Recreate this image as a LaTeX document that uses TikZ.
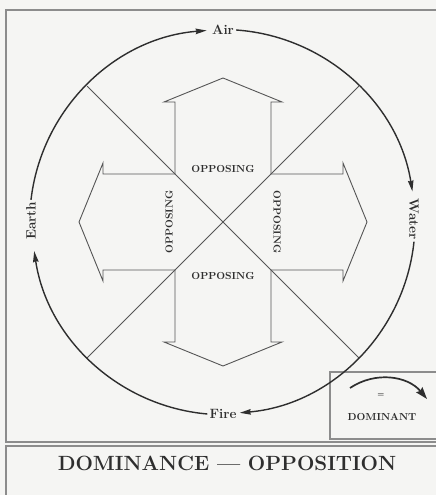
\documentclass[tikz,border=0pt]{standalone}
\usepackage{tikz}
\usepackage{xcolor}
\usetikzlibrary{arrows.meta}
\definecolor{inkgray}{HTML}{2E2E2E}
\definecolor{linegray}{HTML}{555555}
\definecolor{framegray}{HTML}{8C8C8C}
\definecolor{paper}{HTML}{F5F5F3}

\begin{document}
\begin{tikzpicture}[x=1pt, y=1pt,
  element/.style={font=\fontsize{13.5}{16}\selectfont\bfseries, text=inkgray, inner sep=2pt},
  opp/.style={font=\fontsize{10.2}{12}\selectfont\bfseries, text=inkgray, inner sep=1pt},
  dom/.style={line width=1.4pt, draw=inkgray, -{Stealth[length=11pt,width=5.5pt,inset=1pt]}},
  thinline/.style={draw=linegray, line width=0.9pt},
  framebox/.style={draw=framegray, line width=1.2pt}]

\useasboundingbox (0,0) rectangle (436,495);
\clip (0,0) rectangle (436,495);
\fill[paper] (0,0) rectangle (436,495);
\draw[framebox] (6,53) rectangle (446,485);
\draw[framebox] (6,-5) rectangle (446,49);
\draw[framebox] (330,56) rectangle (446,123);

\coordinate (c) at (223,273);

% diagonals
\draw[thinline] ([shift={(135:192)}]c) -- ([shift={(-45:192)}]c);
\draw[thinline] ([shift={(45:192)}]c) -- ([shift={(-135:192)}]c);

% cross of four arrows
\begin{scope}[shift={(c)}]
\foreach \a in {0,90,180,270}
  \draw[thinline, rotate=\a] (48,48) -- (120,48) -- (120,59) -- (144,0)
    -- (120,-59) -- (120,-48) -- (48,-48);
\end{scope}

\node[opp] (opptop) at (223,326) {OPPOSING};
\node[opp] (oppbot) at (223,219) {OPPOSING};
\node[opp, rotate=90] (oppleft) at (169,273) {OPPOSING};
\node[opp, rotate=-90] (oppright) at (277,273) {OPPOSING};

% elements on the circle
\node[element] (air) at (223,465) {Air};
\node[element, rotate=-90] (water) at (414,276) {Water};
\node[element] (fire) at (223,81) {Fire};
\node[element, rotate=90] (earth) at (31,274) {Earth};

\draw[dom] (air.east) arc[start angle=86, end angle=9, radius=192];
\draw[dom] (water.east) arc[start angle=-6, end angle=-85, radius=192];
\draw[dom] (fire.west) arc[start angle=-95, end angle=-171.5, radius=192];
\draw[dom] (earth.east) arc[start angle=173.4, end angle=94.5, radius=192];

% legend
\coordinate (legstart) at (350,107);
\coordinate (legend) at (427,96);
\draw[dom, line width=1.7pt, -{Stealth[length=12pt,width=8pt,inset=1.5pt]}] (legstart) to[bend left=42] (legend);
\node[opp, font=\fontsize{7}{8}\selectfont\bfseries] (eq) at (381,100) {=};
\node[opp] (dominant) at (382,78) {DOMINANT};

\node[font=\fontsize{20.6}{24}\selectfont\bfseries, text=inkgray] (title) at (227,32) {DOMINANCE --- OPPOSITION};
\end{tikzpicture}
\end{document}
